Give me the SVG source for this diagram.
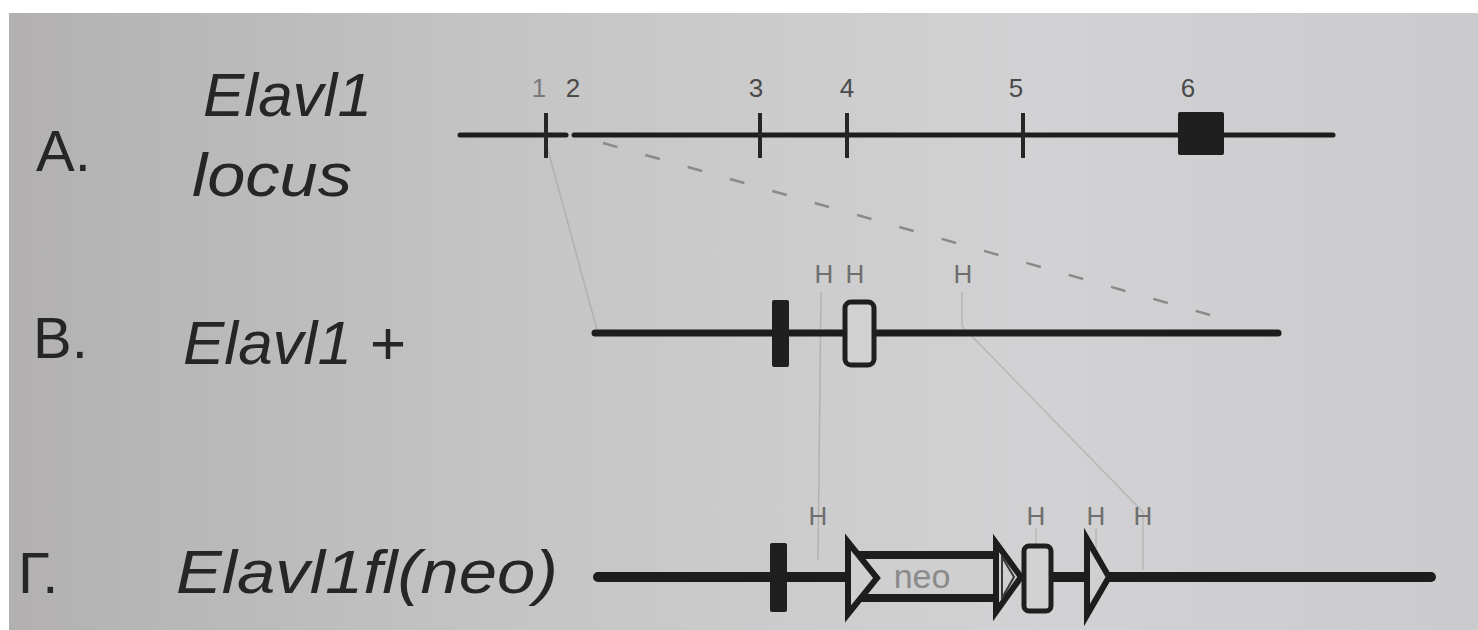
<svg xmlns="http://www.w3.org/2000/svg" width="1478" height="630" viewBox="0 0 1478 630">
  <defs>
    <linearGradient id="paper" x1="0" y1="0" x2="1" y2="0">
      <stop offset="0" stop-color="#b2b0b1"/>
      <stop offset="0.35" stop-color="#c6c5c6"/>
      <stop offset="0.7" stop-color="#d2d2d4"/>
      <stop offset="1" stop-color="#cbcbcd"/>
    </linearGradient>
    <style>
      .lbl { font-family: "Liberation Sans", Arial, sans-serif; fill: #262626; }
      .it { font-style: italic; }
      .num { font-family: "Liberation Sans", Arial, sans-serif; font-size: 26px; fill: #4a4a4a; text-anchor: middle; }
      .h { font-family: "Liberation Sans", Arial, sans-serif; font-size: 26px; fill: #6e6e6e; text-anchor: middle; }
      .dna { stroke: #1d1d1d; stroke-linecap: round; fill: none; }
      .tick { stroke: #262626; stroke-width: 4; }
      .exon { fill: #1f1f1f; }
      .open { fill: #d2d2d3; stroke: #1f1f1f; stroke-width: 5; }
      .lox { fill: #cfcfd0; stroke: #1d1d1d; stroke-width: 6; stroke-linejoin: miter; }
      .faint { stroke: #9e9e9e; stroke-width: 1.5; fill: none; opacity: 0.55; }
      .hint { stroke: #a8a8a8; stroke-width: 1.5; opacity: 0.6; }
    </style>
  </defs>

  <!-- paper -->
  <rect width="1478" height="630" fill="#ffffff"/>
  <rect x="9" y="13" width="1469" height="617" fill="url(#paper)"/>

  <!-- row labels -->
  <g id="labels">
    <text class="lbl" x="36" y="171" font-size="58">A.</text>
    <text class="lbl it" x="203" y="116" font-size="62">Elavl1</text>
    <text class="lbl it" x="192" y="196" font-size="62" textLength="160" lengthAdjust="spacingAndGlyphs">locus</text>
    <text class="lbl" x="33" y="358" font-size="58">B.</text>
    <text class="lbl it" x="183" y="364" font-size="62">Elavl1 +</text>
    <text class="lbl" x="18" y="593" font-size="58">Г.</text>
    <text class="lbl it" x="176" y="593" font-size="62" textLength="382" lengthAdjust="spacingAndGlyphs">Elavl1fl(neo)</text>
  </g>

  <!-- faint mapping lines between the maps -->
  <g id="connectors">
    <line class="faint" x1="548" y1="150" x2="597" y2="330"/>
    <line x1="603" y1="143" x2="1228" y2="320" stroke="#8a8a8a" stroke-width="2.5" stroke-dasharray="15 29"/>
    <line class="faint" x1="821" y1="292" x2="818" y2="560"/>
    <line class="faint" x1="962" y1="292" x2="962" y2="326"/>
    <line class="faint" x1="962" y1="326" x2="1143" y2="512"/>
    <line class="hint" x1="1036" y1="528" x2="1036" y2="545"/>
    <line class="hint" x1="1096" y1="528" x2="1096" y2="560"/>
    <line class="hint" x1="1143" y1="512" x2="1143" y2="570"/>
  </g>

  <!-- A. genomic locus -->
  <g id="locus">
    <line class="dna" x1="460" y1="135" x2="566" y2="135" stroke-width="5"/>
    <line class="dna" x1="574" y1="135" x2="1333" y2="135" stroke-width="5"/>
    <line class="tick" x1="546" y1="113" x2="546" y2="158"/>
    <line class="tick" x1="760" y1="113" x2="760" y2="158"/>
    <line class="tick" x1="847" y1="113" x2="847" y2="158"/>
    <line class="tick" x1="1023" y1="113" x2="1023" y2="158"/>
    <rect class="exon" x="1178" y="112" width="46" height="43" rx="2"/>
    <text class="num" x="539" y="97" style="fill:#7a7a7a">1</text>
    <text class="num" x="573" y="97">2</text>
    <text class="num" x="756" y="97">3</text>
    <text class="num" x="847" y="97">4</text>
    <text class="num" x="1016" y="97">5</text>
    <text class="num" x="1188" y="97">6</text>
  </g>

  <!-- B. wild-type allele -->
  <g id="allele-wt">
    <line class="dna" x1="595" y1="333" x2="1278" y2="333" stroke-width="7"/>
    <rect class="exon" x="772" y="300" width="17" height="67" rx="2"/>
    <rect class="open" x="845" y="302" width="29" height="63" rx="6"/>
    <text class="h" x="824" y="283">H</text>
    <text class="h" x="855" y="283">H</text>
    <text class="h" x="963" y="283">H</text>
  </g>

  <!-- Г. floxed allele with neo cassette -->
  <g id="allele-flox">
    <line class="dna" x1="598" y1="577" x2="850" y2="577" stroke-width="10"/>
    <line class="dna" x1="1050" y1="577" x2="1090" y2="577" stroke-width="10"/>
    <line class="dna" x1="1105" y1="577" x2="1431" y2="577" stroke-width="10"/>
    <rect class="exon" x="770" y="543" width="17" height="69" rx="2"/>
    <rect x="850" y="555" width="148" height="43" fill="#cfcfd0" stroke="#1d1d1d" stroke-width="8"/>
    <polygon class="lox" points="848,542 848,614 877,578"/>
    <polygon class="lox" points="996,543 996,612 1021,577"/>
    <polygon points="1002,557 1002,598 1014,577" fill="none" stroke="#3a3a3a" stroke-width="2"/>
    <text x="922" y="588" font-family="Liberation Sans, Arial, sans-serif" font-size="34" fill="#8a8a8a" text-anchor="middle">neo</text>
    <rect class="open" x="1024" y="546" width="27" height="65" rx="5"/>
    <polygon class="lox" points="1087,539 1087,615 1109,577"/>
    <text class="h" x="818" y="525">H</text>
    <text class="h" x="1036" y="525">H</text>
    <text class="h" x="1096" y="525">H</text>
    <text class="h" x="1143" y="525">H</text>
  </g>
</svg>
